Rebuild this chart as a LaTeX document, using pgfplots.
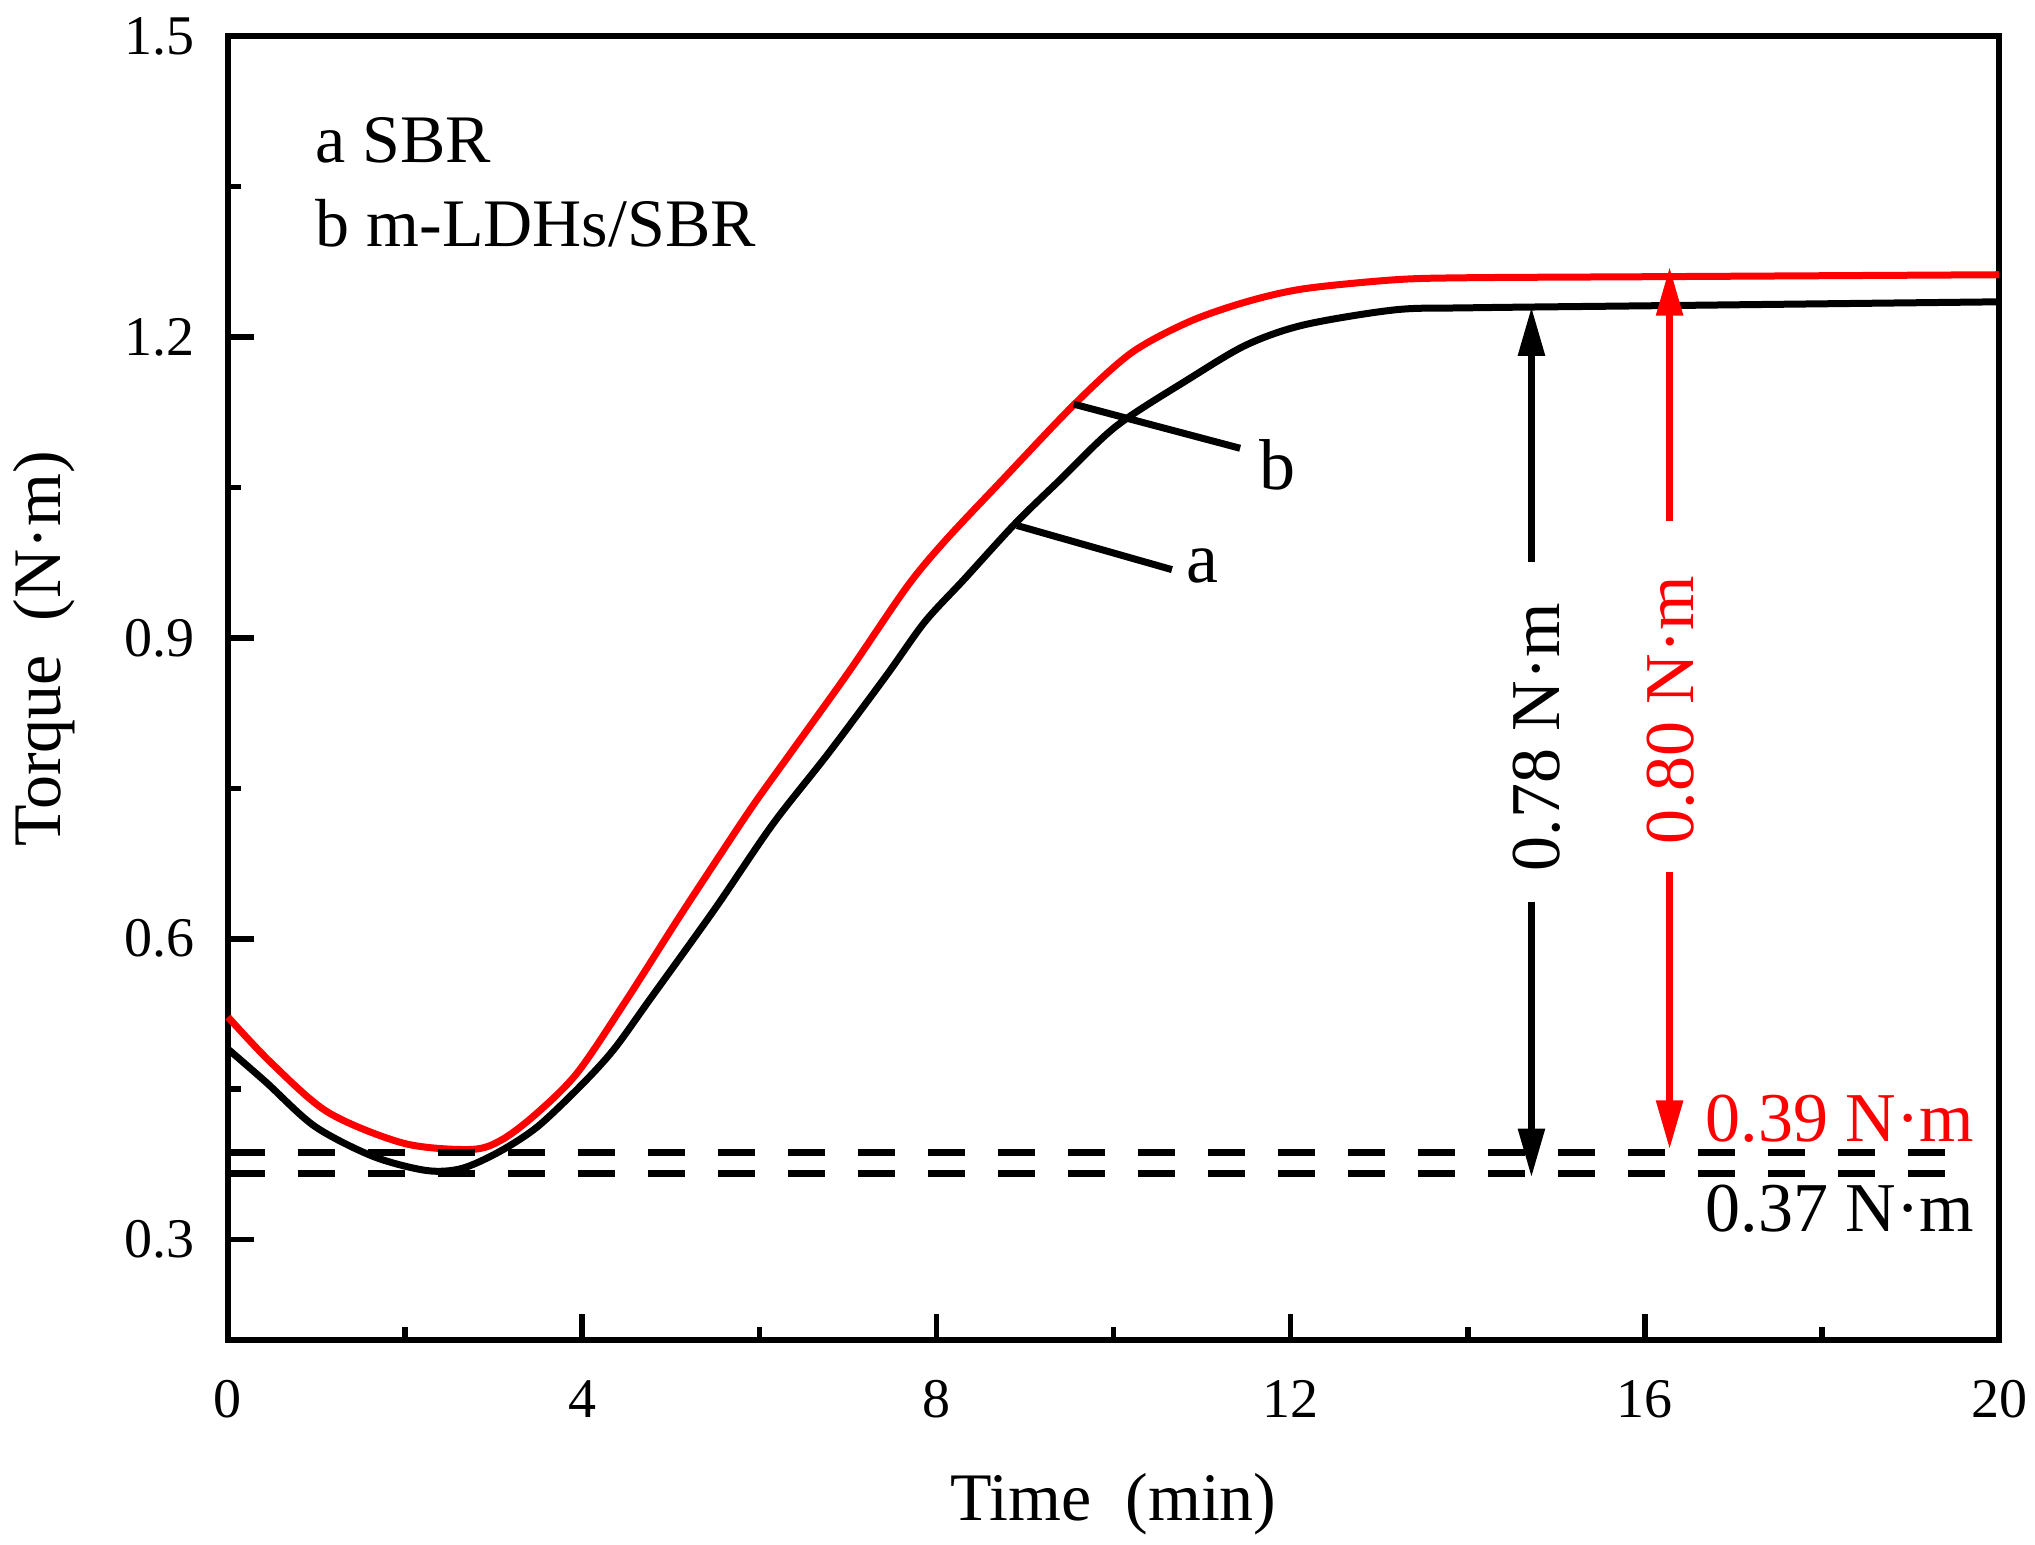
\documentclass[border=0pt]{standalone}
\usepackage{fontspec}
\setmainfont{Liberation Serif}
\usepackage{pgfplots}
\pgfplotsset{compat=1.18}
\usetikzlibrary{arrows.meta}

\begin{document}
\begin{tikzpicture}
\begin{axis}[
  scale only axis, width=442.75pt, height=326pt,
  xmin=0, xmax=20, ymin=0.2, ymax=1.5,
  xtick={0,4,8,12,16,20}, ytick={0.3,0.6,0.9,1.2,1.5},
  minor x tick num=1, minor y tick num=1,
  tick pos=left, tick align=inside,
  major tick length=6.5pt, minor tick length=3.3pt,
  axis line style={line width=1.4pt},
  every tick/.style={black, line width=1.4pt},
  clip=false,
  /pgf/number format/assume math mode=true,
  tick label style={font=\fontsize{14}{16}\selectfont},
  yticklabel style={/pgf/number format/fixed, /pgf/number format/fixed zerofill, /pgf/number format/precision=1, anchor=east, inner sep=0pt, xshift=-8.25pt},
  xticklabel style={anchor=base, inner sep=0pt, yshift=-19.25pt},
  label style={font=\fontsize{17}{19}\selectfont},
  xlabel={Time\ \ (min)}, ylabel={Torque\ \ (N·m)},
  xlabel style={at={(axis description cs:0.5,-0.1388)}, anchor=base, inner sep=0pt},
  ylabel style={at={(axis description cs:-0.0943,0.53)}, anchor=base, inner sep=0pt},
]
% a: SBR
\addplot[black, line width=1.75pt, smooth, tension=0.5] coordinates {
(0,0.490) (0.43,0.457) (0.98,0.413) (1.64,0.383) (2.24,0.369) (2.64,0.371)
(3.07,0.388) (3.5,0.413) (4.0,0.455) (4.36,0.490) (4.76,0.539) (5.50,0.630)
(6.15,0.714) (6.79,0.786) (7.44,0.863) (7.87,0.916) (8.31,0.958) (8.89,1.014)
(9.39,1.057) (10.03,1.111) (10.85,1.158) (11.5,1.192) (12.15,1.212) (13.18,1.227)
(14,1.229) (16,1.231) (18,1.233) (20,1.235)};
% b: m-LDHs/SBR
\addplot[red, line width=1.75pt, smooth, tension=0.5] coordinates {
(0,0.522) (0.48,0.477) (1.13,0.427) (1.99,0.396) (2.75,0.390) (3.1,0.400)
(3.5,0.427) (3.95,0.467) (4.50,0.539) (5.07,0.618) (5.50,0.676) (5.93,0.733)
(6.36,0.786) (7.01,0.866) (7.66,0.950) (8.09,0.996) (8.74,1.057) (9.56,1.133)
(10.2,1.184) (10.85,1.215) (11.5,1.235) (12.15,1.248) (13.18,1.257)
(14,1.259) (16,1.260) (18,1.261) (20,1.262)};
% minimum torque reference lines
\addplot[black, line width=1.75pt, dash pattern=on 9.25pt off 8.25pt] coordinates {(0,0.387) (19.72,0.387)};
\addplot[black, line width=1.75pt, dash pattern=on 9.25pt off 8.25pt] coordinates {(0,0.366) (19.72,0.366)};

% arrows
\draw[black, line width=1.75pt, -{Triangle[length=12.25pt,width=6.4pt]}] (axis cs:14.72,0.976) -- (axis cs:14.72,1.230);
\draw[black, line width=1.75pt, -{Triangle[length=12.25pt,width=6.4pt]}] (axis cs:14.72,0.637) -- (axis cs:14.72,0.362);
\draw[red, line width=1.75pt, -{Triangle[length=12.25pt,width=6.4pt]}] (axis cs:16.28,1.016) -- (axis cs:16.28,1.270);
\draw[red, line width=1.75pt, -{Triangle[length=12.25pt,width=6.4pt]}] (axis cs:16.28,0.667) -- (axis cs:16.28,0.390);
\node[rotate=90, inner sep=0pt, font=\fontsize{17.5}{19}\selectfont] at (axis cs:14.78,0.801) {0.78 N·m};
\node[rotate=90, inner sep=0pt, red, font=\fontsize{17.5}{19}\selectfont] at (axis cs:16.29,0.828) {0.80 N·m};
\node[anchor=base east, inner sep=0pt, red, font=\fontsize{17.5}{19}\selectfont] at (axis cs:19.73,0.398) {0.39 N·m};
\node[anchor=base east, inner sep=0pt, font=\fontsize{17.5}{19}\selectfont] at (axis cs:19.73,0.308) {0.37 N·m};

% curve labels
\draw[black, line width=1.75pt] (axis cs:9.55,1.133) -- (axis cs:11.43,1.089);
\draw[black, line width=1.75pt] (axis cs:8.91,1.012) -- (axis cs:10.66,0.968);
\node[inner sep=0pt, font=\fontsize{18}{20}\selectfont] at (axis cs:11.85,1.072) {b};
\node[inner sep=0pt, font=\fontsize{18}{20}\selectfont] at (axis cs:11.01,0.972) {a};

% legend text
\node[anchor=base west, inner sep=0pt, font=\fontsize{17}{19}\selectfont] at (axis cs:0.98,1.374) {a SBR};
\node[anchor=base west, inner sep=0pt, font=\fontsize{17}{19}\selectfont] at (axis cs:0.98,1.290) {b m-LDHs/SBR};
\end{axis}
\pgfresetboundingbox
\useasboundingbox ([xshift=-57pt,yshift=-51pt]current axis.south west) rectangle ([xshift=9pt,yshift=9pt]current axis.north east);
\end{tikzpicture}
\end{document}
